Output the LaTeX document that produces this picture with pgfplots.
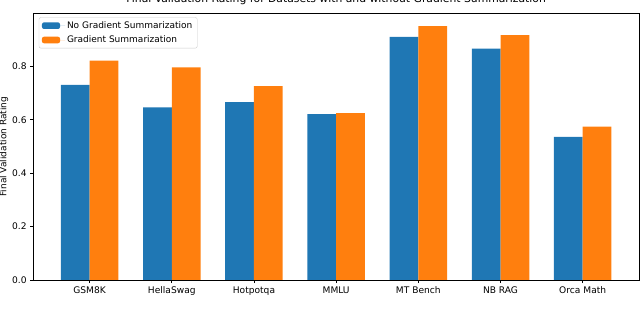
\documentclass[border=0pt]{standalone}
\usepackage{fontspec}
\setmainfont{DejaVu Sans}
\usepackage{pgfplots}
\pgfplotsset{compat=1.18}
\definecolor{tabblue}{HTML}{1F77B4}
\definecolor{taborange}{HTML}{FF7F0E}
\begin{document}
\begin{tikzpicture}
\path[use as bounding box] (-33.3pt,-32pt) rectangle (606.7pt,280pt);
\begin{axis}[at={(0pt,0pt)}, anchor=south west, scale only axis,
  width=605.7pt, height=266.7pt,
  xmin=-0.685, xmax=6.685, ymin=0, ymax=0.9986,
  ybar, bar width=0.35,
  xtick={0,1,2,3,4,5,6},
  xticklabels={GSM8K,HellaSwag,Hotpotqa,MMLU,MT Bench,NB RAG,Orca Math},
  ytick={0,0.2,0.4,0.6,0.8},
  yticklabel style={/pgf/number format/.cd, fixed, fixed zerofill, precision=1},
  /pgf/number format/assume math mode=true,
  tick label style={font=\fontsize{9.1}{10}\selectfont},
  tick align=outside, tick pos=left, major tick length=3.2pt,
  every tick/.style={black, line width=0.7pt},
  axis line style={line width=0.7pt},
  ylabel={Final Validation Rating},
  ylabel style={at={(axis description cs:-0.0484,0.5)}, anchor=center, font=\fontsize{9}{10}\selectfont},
  title={Final Validation Rating for Datasets with and without Gradient Summarization},
  title style={at={(axis description cs:0.5,1)}, anchor=base, yshift=5pt, font=\fontsize{10.8}{12}\selectfont},
  legend style={at={(axis description cs:0,1)}, anchor=north west, xshift=5.5pt, yshift=-4pt,
    draw=black!20, rounded corners=2pt, fill=white, font=\fontsize{9}{10}\selectfont,
    row sep=2pt, inner xsep=3pt, inner ysep=2pt},
  legend cell align=left,
  legend image code/.code={\fill[#1] (0pt,-3.3pt) rectangle (18pt,3.3pt); \path (0pt,0pt) -- (23pt,0pt);},
]
\addplot[fill=tabblue, draw=none, bar shift=-0.175] coordinates {(0,0.731) (1,0.646) (2,0.666) (3,0.621) (4,0.910) (5,0.866) (6,0.536)};
\addlegendentry{No Gradient Summarization}
\addplot[fill=taborange, draw=none, bar shift=0.175] coordinates {(0,0.821) (1,0.796) (2,0.726) (3,0.625) (4,0.951) (5,0.917) (6,0.574)};
\addlegendentry{Gradient Summarization}
\end{axis}
\end{tikzpicture}
\end{document}
